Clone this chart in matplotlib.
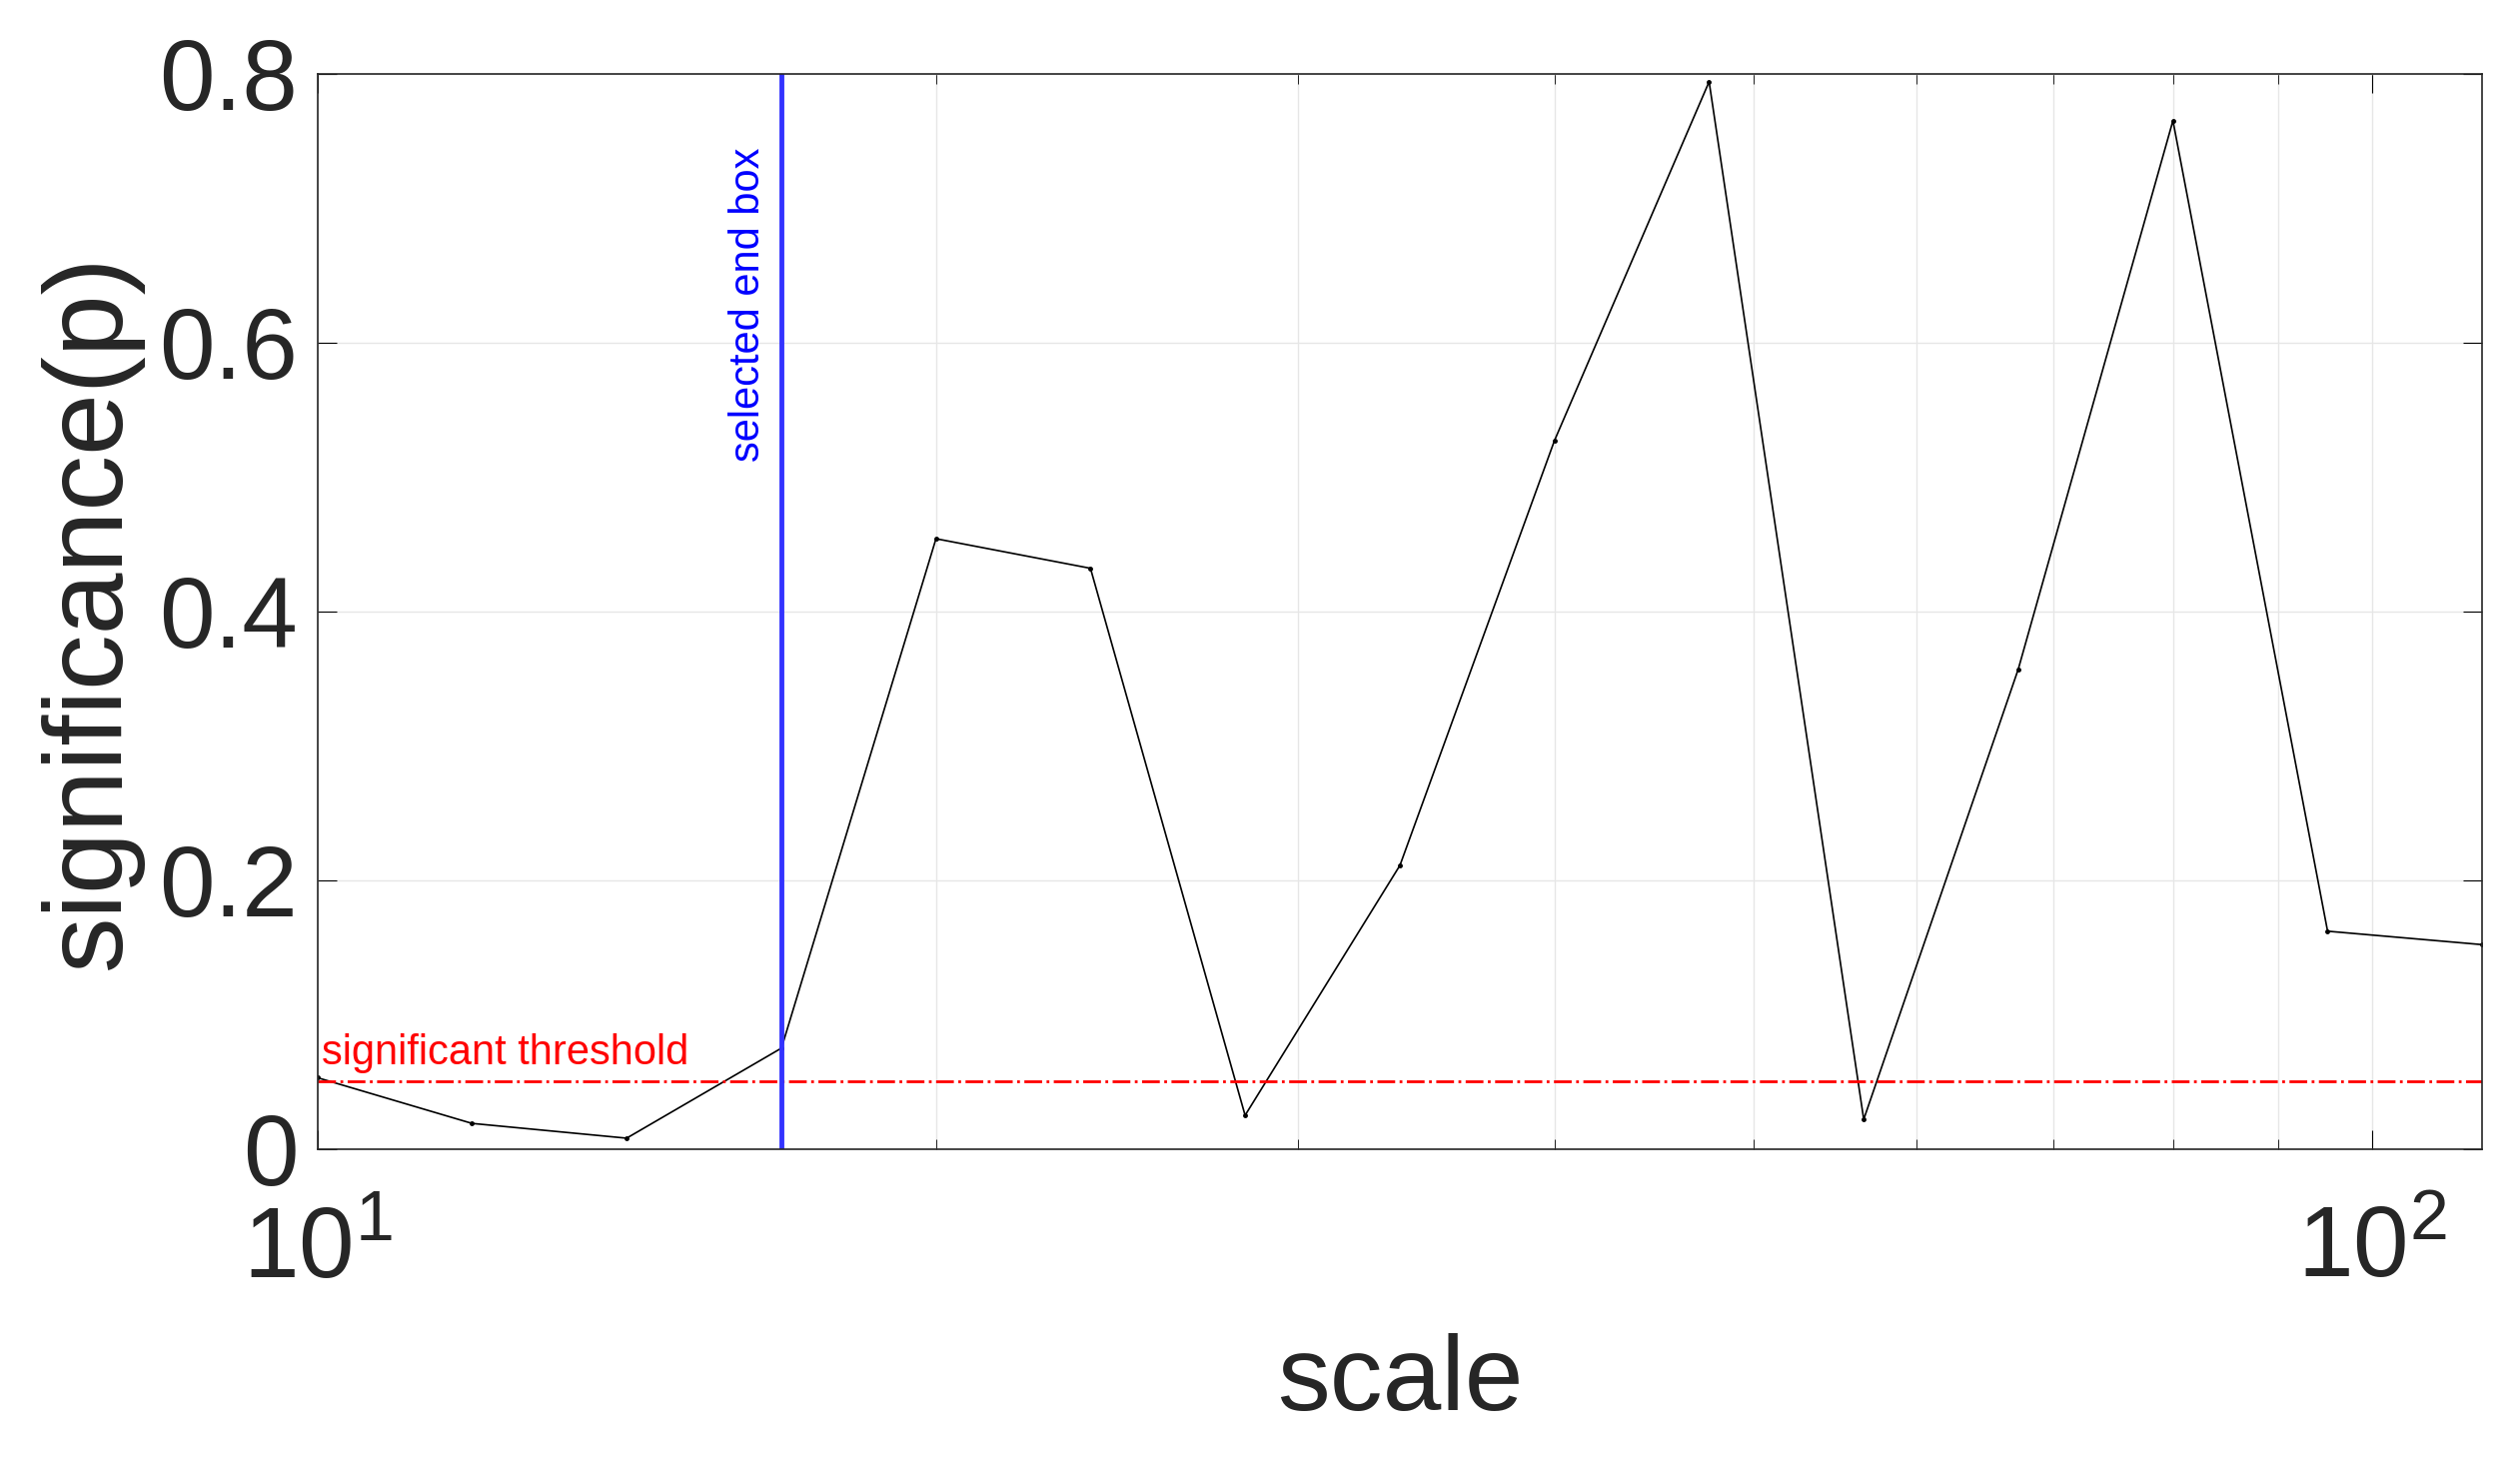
import numpy as np
import matplotlib
matplotlib.use("Agg")
import matplotlib.pyplot as plt

plt.rcParams['font.family'] = ['Liberation Sans', 'DejaVu Sans']
plt.rcParams['mathtext.fontset'] = 'custom'
plt.rcParams['mathtext.rm'] = 'Liberation Sans'

# scales: 10 * 2^(k/4)
scale = [10.0, 11.89, 14.14, 16.82, 20.0, 23.78, 28.28, 33.64, 40.0,
         47.57, 56.57, 67.27, 80.0, 95.14, 113.14]
pval = [0.053, 0.019, 0.008, 0.075, 0.454, 0.432, 0.025, 0.211, 0.527,
        0.794, 0.022, 0.357, 0.765, 0.162, 0.152]
threshold = 0.05
end_box = 16.82

fig = plt.figure(figsize=(25.22, 14.74), dpi=100)
ax = fig.add_axes([0.126, 0.22, 0.859, 0.73])

ax.plot(scale, pval, color='black', lw=1.2, marker='o', ms=2.5)
ax.axhline(threshold, color='red', ls='-.', lw=2)
ax.axvline(end_box, color='#3333ff', lw=3.5)
ax.text(10.05, threshold + 0.006, 'significant threshold', color='red', fontsize=30,
        va='bottom', ha='left')
ax.text(end_box * 0.985, 0.745, 'selected end box', color='blue', fontsize=30,
        rotation=90, va='top', ha='right')

ax.set_xscale('log')
ax.set_xlim(10, 113.14)
ax.set_ylim(0, 0.8)
ax.set_yticks([0, 0.2, 0.4, 0.6, 0.8])
ax.set_yticklabels(['0', '0.2', '0.4', '0.6', '0.8'])
ax.grid(True, which='both', color='#e6e6e6', lw=1)
ax.set_axisbelow(True)
ax.tick_params(which='both', direction='in', top=True, right=True, labelsize=72,
               labelcolor='#262626')
ax.tick_params(axis='y', pad=14)
ax.tick_params(axis='x', pad=40)
ax.tick_params(which='major', length=14)
ax.tick_params(which='minor', length=7)
ax.set_xlabel('scale', fontsize=76, labelpad=25, color='#262626')
ax.set_ylabel('significance(p)', fontsize=80, labelpad=12, color='#262626')
for s in ax.spines.values():
    s.set_color('#262626')
    s.set_linewidth(1.2)

fig.savefig('out.png')
